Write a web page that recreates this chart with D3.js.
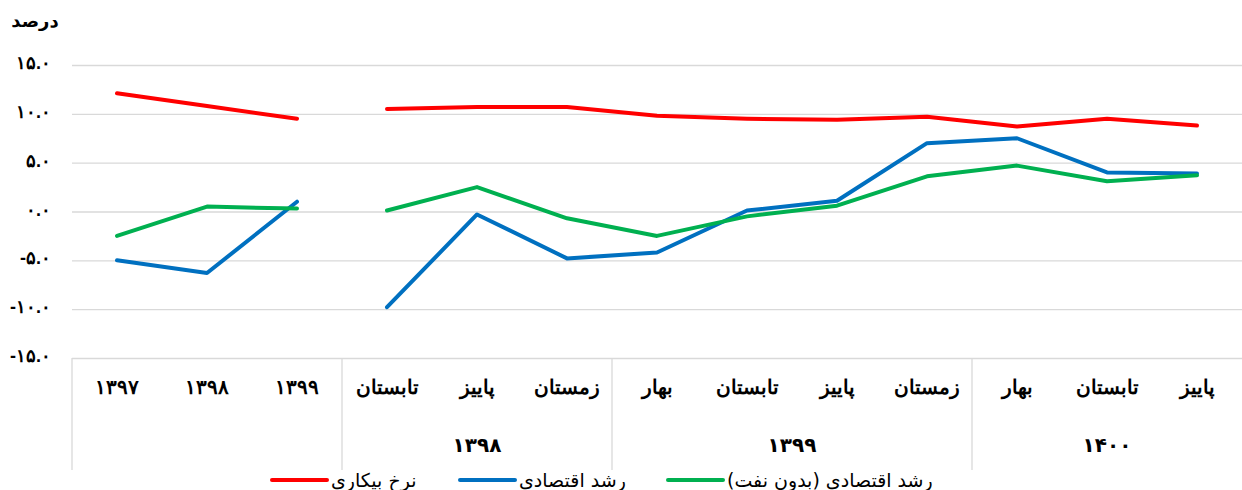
<!DOCTYPE html>
<html>
<head>
<meta charset="utf-8">
<script src="https://cdn.jsdelivr.net/npm/d3@7"></script>
<style>
  html, body { margin: 0; padding: 0; background: #fff; }
  svg { display: block; font-family: "DejaVu Sans", "Noto Sans", sans-serif; }
</style>
</head>
<body>
<svg id="chart" width="1242" height="490"></svg>
<script>
// ---- data ----
const categories = ["۱۳۹۷", "۱۳۹۸", "۱۳۹۹", "تابستان", "پاییز", "زمستان", "بهار", "تابستان", "پاییز", "زمستان", "بهار", "تابستان", "پاییز"];
const periodType = ["annual", "annual", "annual", "quarter", "quarter", "quarter", "quarter", "quarter", "quarter", "quarter", "quarter", "quarter", "quarter"];
const groupLabels = ["", "۱۳۹۸", "۱۳۹۹", "۱۴۰۰"];
const groupSizes = [3, 3, 4, 3];
const unemployment = [12.1, 10.8, 9.5, 10.5, 10.7, 10.7, 9.8, 9.5, 9.4, 9.7, 8.7, 9.5, 8.8];
const growth = [-5.0, -6.3, 1.0, -9.8, -0.3, -4.8, -4.2, 0.1, 1.1, 7.0, 7.5, 4.0, 3.9];
const growthNonOil = [-2.5, 0.5, 0.3, 0.1, 2.5, -0.7, -2.5, -0.5, 0.6, 3.6, 4.7, 3.1, 3.7];
const yTicks = [-15, -10, -5, 0, 5, 10, 15];
const seriesNames = ["نرخ بیکاری", "رشد اقتصادی", "رشد اقتصادی (بدون نفت)"];
const seriesColors = ["#FF0000", "#0070C0", "#00B050"];
const yUnit = "درصد";

(function () {
// ---- helpers ----
const faDigits = "۰۱۲۳۴۵۶۷۸۹";
const toFa = s => String(s).replace(/[0-9]/g, d => faDigits[+d]);

// ---- layout ----
const svg = d3.select("#chart");
const mLeft = 72, mRight = 1242, mTop = 65, mBottom = 358;

const x = d3.scaleBand().domain(d3.range(categories.length)).range([mLeft, mRight]).padding(0);
const y = d3.scaleLinear().domain([-15, 15]).range([mBottom, mTop]);

// gridlines + y labels
const yAxis = d3.axisLeft(y)
  .tickValues(yTicks)
  .tickSize(-(mRight - mLeft))
  .tickPadding(21)
  .tickFormat(d => toFa(d3.format(".1f")(d)).replace("−", "-"));
const gy = svg.append("g").attr("transform", `translate(${mLeft},0)`).call(yAxis);
gy.select(".domain").remove();
gy.selectAll(".tick line").attr("stroke", "#d9d9d9").attr("stroke-width", 1.3);
gy.selectAll(".tick text")
  .attr("fill", "#000")
  .attr("dy", "0.2em")
  .style("font-size", "18px")
  .style("font-weight", "bold")
  .attr("direction", "ltr");

// y unit label
svg.append("text")
  .attr("x", 35).attr("y", 27)
  .attr("text-anchor", "middle")
  .style("font-size", "18px").style("font-weight", "bold")
  .text(yUnit);

// x axis (category labels)
const xAxis = d3.axisBottom(x).tickSize(0).tickPadding(22).tickFormat(i => categories[i]);
const gx = svg.append("g").attr("transform", `translate(0,${mBottom})`).call(xAxis);
gx.select(".domain").remove();
gx.selectAll(".tick text")
  .attr("fill", "#000")
  .style("font-size", "20px")
  .style("font-weight", "bold");

// group separators and labels
let acc = 0;
const boundaries = [0];
groupSizes.forEach(s => { acc += s; boundaries.push(acc); });
const sepIdx = boundaries.slice(0, -1);
svg.append("g").selectAll("line").data(sepIdx).join("line")
  .attr("x1", i => x(i)).attr("x2", i => x(i))
  .attr("y1", mBottom).attr("y2", 470)
  .attr("stroke", "#d9d9d9").attr("stroke-width", 1.3);

svg.append("g").selectAll("text").data(groupLabels).join("text")
  .attr("x", (d, k) => (x(boundaries[k]) + (boundaries[k + 1] < categories.length ? x(boundaries[k + 1]) : mRight)) / 2)
  .attr("y", 452)
  .attr("text-anchor", "middle")
  .style("font-size", "20px").style("font-weight", "bold")
  .text(d => d);

// lines
const cx = i => x(i) + x.bandwidth() / 2;
const allSeries = [unemployment, growth, growthNonOil];
const segTypes = ["annual", "quarter"];
allSeries.forEach((vals, s) => {
  segTypes.forEach(t => {
    const idx = d3.range(vals.length).filter(i => periodType[i] === t);
    svg.append("path")
      .datum(idx)
      .attr("fill", "none")
      .attr("stroke", seriesColors[s])
      .attr("stroke-width", 4)
      .attr("stroke-linejoin", "round")
      .attr("stroke-linecap", "round")
      .attr("d", d3.line().x(i => cx(i)).y(i => y(vals[i])));
  });
});

// legend
const legendX = [272, 460, 668];
const lg = svg.append("g");
seriesNames.forEach((name, s) => {
  lg.append("line")
    .attr("x1", legendX[s]).attr("x2", legendX[s] + 55)
    .attr("y1", 480).attr("y2", 480)
    .attr("stroke", seriesColors[s]).attr("stroke-width", 4)
    .attr("stroke-linecap", "round");
  lg.append("text")
    .attr("x", legendX[s] + 59).attr("y", 487)
    .attr("direction", "rtl")
    .attr("text-anchor", "end")
    .style("font-size", "19px")
    .text(name);
});
})();
</script>
</body>
</html>
